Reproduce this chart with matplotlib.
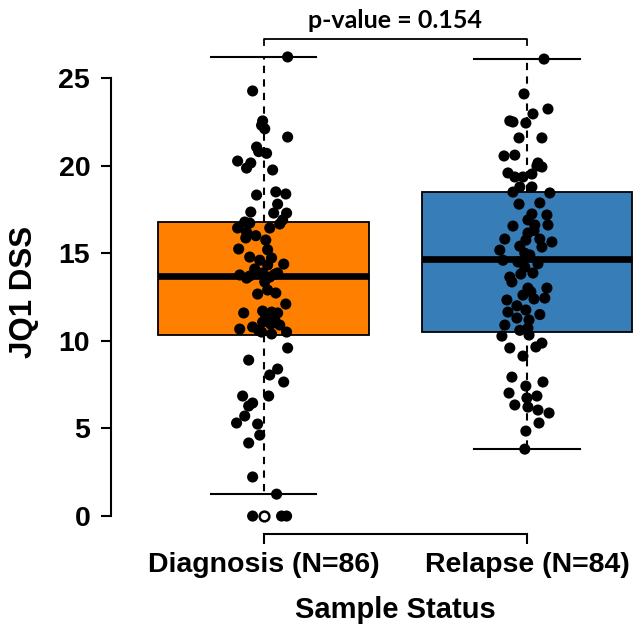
import matplotlib
matplotlib.use('Agg')
import matplotlib.pyplot as plt
from matplotlib.transforms import blended_transform_factory

# group names and sizes
groups = ['Diagnosis', 'Relapse']
n_samples = [86, 84]
box_colors = ['#FF7F00', '#377EB8']

# box statistics (R style hinges)
q1 = [10.33, 10.50]
medians = [13.70, 14.67]
q3 = [16.78, 18.49]
whisk_lo = [1.25, 3.82]
whisk_hi = [26.2, 26.08]
outliers = [[0.0], []]

# jittered points: values and horizontal offset from the group centre
diag_vals = [26.2, 24.26, 22.55, 22.3, 22.1, 21.63, 21.06, 20.8, 20.7, 20.26,
             20.15, 19.86, 19.75, 18.32, 18.5, 18.38, 17.8, 17.35, 17.29, 17.29,
             16.78, 16.72, 16.44, 16.2, 16.67, 16.44, 15.87, 15.75, 15.24, 14.78,
             14.6, 14.73, 14.38, 14.33, 13.87, 13.76, 13.58, 13.87, 13.36, 13.64,
             12.67, 12.73, 12.1, 11.59, 11.7, 11.64, 11.59, 11.07, 11.13, 10.79,
             10.67, 10.9, 10.5, 10.39, 10.5, 9.59, 8.9, 8.05, 8.39, 7.65,
             6.85, 6.85, 6.45, 6.28, 5.71, 5.31, 5.25, 4.62, 4.17, 2.23,
             1.25, 0.0, 0.0, 0.0, 13.9, 13.8, 14.1, 12.9, 11.4, 11.2,
             10.6, 16.9, 16.0, 15.2, 10.95, 13.7]
diag_jit = [0.091, -0.042, -0.004, -0.008, 0.004, 0.091, -0.027, -0.019, 0.011, -0.099,
            -0.049, -0.065, 0.034, -0.027, 0.046, 0.084, 0.053, -0.049, 0.038, 0.087,
            -0.072, -0.053, -0.099, -0.065, 0.061, 0.023, -0.068, 0.008, -0.095, -0.053,
            -0.015, 0.030, 0.076, 0.015, 0.053, -0.091, -0.065, -0.004, 0.004, 0.023,
            -0.023, 0.046, 0.084, -0.076, -0.004, 0.030, 0.053, -0.004, 0.023, -0.042,
            -0.091, 0.061, -0.008, 0.030, 0.087, 0.091, -0.057, 0.023, 0.053, 0.076,
            -0.080, 0.019, -0.042, -0.057, -0.072, -0.103, -0.023, -0.015, -0.057, -0.042,
            0.049, -0.042, 0.068, 0.087, -0.023, 0.042, -0.034, 0.015, 0.008, 0.042,
            -0.019, 0.072, -0.030, 0.015, 0.027, -0.053]

rel_vals = [26.08, 24.09, 23.23, 22.95, 22.55, 22.49, 22.43, 21.58, 21.58, 20.55,
            20.6, 20.15, 19.92, 19.98, 19.58, 19.35, 19.35, 19.52, 18.78, 18.78,
            18.49, 18.44, 17.8, 17.87, 17.24, 17.18, 16.9, 16.55, 16.61, 16.61,
            16.15, 15.81, 15.75, 15.81, 15.64, 15.35, 15.18, 15.0, 14.6, 14.5,
            14.2, 13.64, 13.87, 13.81, 13.36, 13.01, 13.01, 12.61, 12.39, 12.44,
            12.33, 11.64, 11.76, 11.3, 11.19, 10.9, 10.73, 10.27, 10.33, 9.87,
            9.65, 9.59, 9.13, 7.93, 7.65, 7.42, 7.02, 6.85, 6.74, 6.34,
            6.22, 6.05, 5.88, 5.31, 4.85, 3.82, 14.9, 14.4, 15.4, 12.8,
            12.0, 11.5, 10.6, 16.3]
rel_jit = [0.065, -0.011, 0.080, 0.023, -0.065, -0.053, -0.004, -0.030, 0.057, -0.087,
           -0.046, 0.042, 0.057, 0.038, -0.072, -0.046, -0.015, 0.019, -0.027, 0.019,
           -0.053, 0.087, -0.030, 0.049, 0.019, 0.076, 0.004, -0.053, 0.030, 0.080,
           0.004, -0.084, -0.004, 0.049, 0.095, 0.057, -0.103, -0.008, -0.091, -0.034,
           -0.008, -0.065, 0.023, -0.023, -0.057, 0.004, 0.076, -0.015, 0.027, 0.068,
           -0.076, -0.072, -0.004, -0.038, 0.008, -0.084, 0.004, -0.095, 0.008, 0.057,
           0.034, -0.065, -0.015, -0.057, 0.061, -0.004, -0.068, 0.038, 0.0, -0.046,
           0.004, 0.042, 0.084, 0.046, -0.004, -0.008, 0.011, 0.042, -0.027, 0.015,
           -0.038, 0.049, -0.027, 0.027]

p_value = 0.154
y_ticks = [0, 5, 10, 15, 20, 25]

LABEL_FONT = 'Liberation Sans'


def main():
    fig = plt.figure(figsize=(6.38, 6.35), dpi=100)
    ax = fig.add_axes([0.174, 0.1584, 0.826, 0.7808])

    positions = [1, 2]
    stats = []
    for i in range(len(groups)):
        stats.append({'q1': q1[i], 'med': medians[i], 'q3': q3[i],
                      'whislo': whisk_lo[i], 'whishi': whisk_hi[i],
                      'fliers': outliers[i]})

    bp = ax.bxp(stats, positions=positions, widths=0.8, capwidths=0.4,
                patch_artist=True, showfliers=True,
                boxprops=dict(edgecolor='black', linewidth=1.3),
                medianprops=dict(color='black', linewidth=4.8, solid_capstyle='butt'),
                whiskerprops=dict(color='black', linewidth=1.5, linestyle=(0, (3.5, 3))),
                capprops=dict(color='black', linewidth=1.5),
                flierprops=dict(marker='o', markerfacecolor='white', markeredgecolor='black',
                                markersize=7, markeredgewidth=1.8))
    for patch, col in zip(bp['boxes'], box_colors):
        patch.set_facecolor(col)
    for fl in bp['fliers']:
        fl.set_zorder(4)

    # jittered points on top of the boxes
    ax.scatter([positions[0] + j for j in diag_jit], diag_vals, s=64, color='black',
               edgecolors='none', zorder=3)
    ax.scatter([positions[1] + j for j in rel_jit], rel_vals, s=64, color='black',
               edgecolors='none', zorder=3)

    # R style limits (4% padding), right side cut off like the original
    lo, hi = 0.0, max(whisk_hi)
    pad = 0.04 * (hi - lo)
    ax.set_ylim(lo - pad, hi + pad)
    ax.set_xlim(0.5 - 0.04 * 2, 2.422)

    # axes in R style: lines only between first and last tick
    ax.spines['top'].set_visible(False)
    ax.spines['right'].set_visible(False)
    ax.spines['left'].set_bounds(y_ticks[0], y_ticks[-1])
    ax.spines['bottom'].set_bounds(positions[0], positions[-1])
    ax.spines['left'].set_linewidth(1.5)
    ax.spines['bottom'].set_linewidth(1.5)

    ax.set_yticks(y_ticks)
    ax.set_yticklabels([str(t) for t in y_ticks])
    ax.set_xticks(positions)
    ax.set_xticklabels([f'{g} (N={n})' for g, n in zip(groups, n_samples)])
    ax.tick_params(axis='both', direction='out', length=7, width=1.5, labelsize=20.5)
    ax.tick_params(axis='y', pad=8)
    ax.tick_params(axis='x', pad=6)
    for lab in ax.get_xticklabels() + ax.get_yticklabels():
        lab.set_fontfamily(LABEL_FONT)
        lab.set_fontweight('bold')

    ax.set_xlabel('Sample Status', fontsize=21, fontweight='bold', fontfamily=LABEL_FONT)
    ax.set_ylabel('JQ1 DSS', fontsize=22.5, fontweight='bold', fontfamily=LABEL_FONT)
    mixed = blended_transform_factory(ax.transData, ax.transAxes)
    ax.xaxis.set_label_coords(1.5, -0.125, transform=mixed)
    ax.yaxis.set_label_coords(-0.137, 0.49)

    # p-value bracket over the two groups
    top = hi + pad
    ax.plot([positions[0], positions[0], positions[1], positions[1]],
            [top - 0.35, top, top, top - 0.35], color='black', lw=1.3, clip_on=False)
    ax.text(1.5, 1.036, f'p-value = {p_value}', transform=mixed, ha='center', va='center',
            fontsize=18, fontweight='bold', fontfamily='Lato')

    fig.savefig('out.png', dpi=100)
    plt.close(fig)


if __name__ == "__main__":
    main()
